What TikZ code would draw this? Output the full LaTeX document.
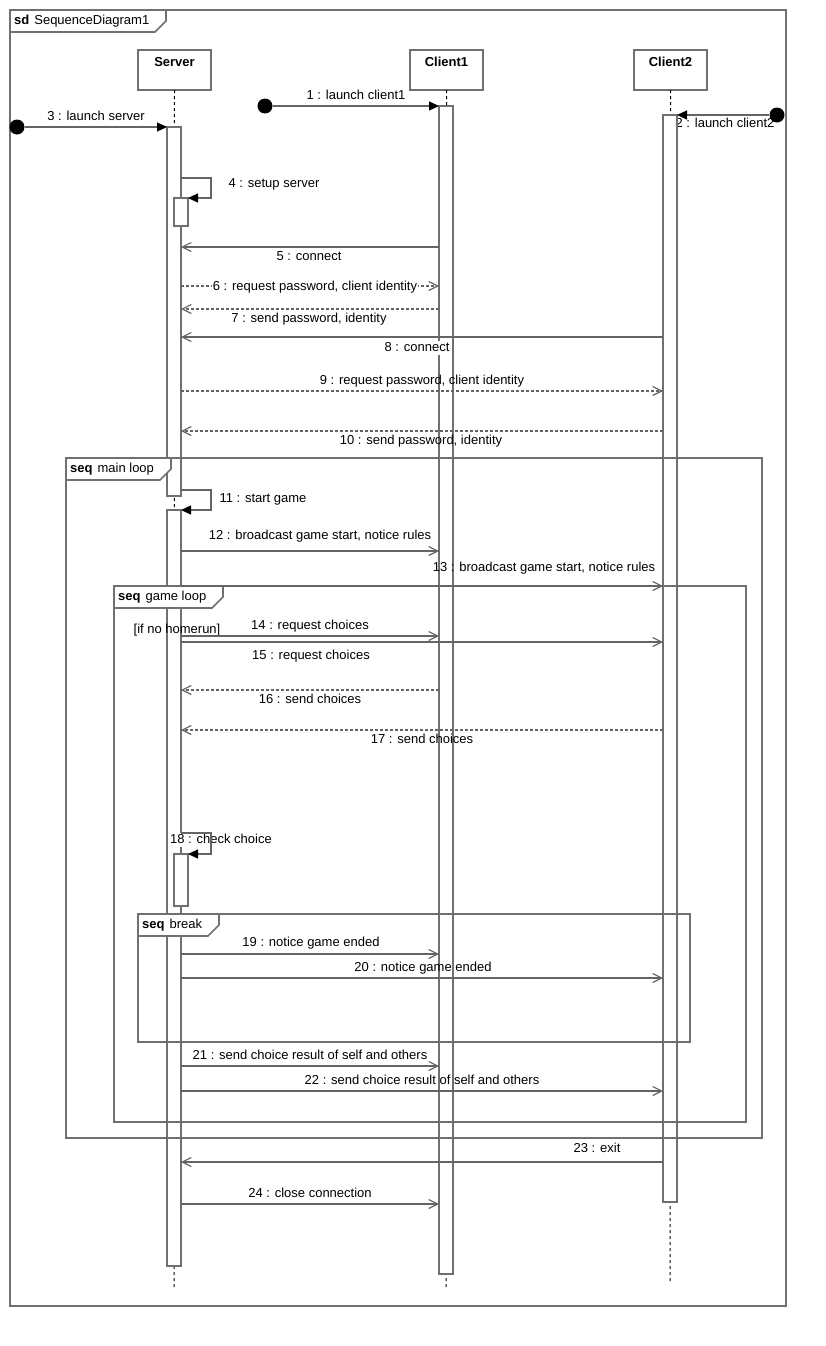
\documentclass[tikz,border=0pt]{standalone}
\usepackage{fontspec}
\setmainfont{Liberation Sans}
\usetikzlibrary{arrows.meta,calc,positioning}
\definecolor{framegray}{RGB}{112,112,112}
\definecolor{linegray}{RGB}{100,100,100}
\tikzset{
  >=Latex,
  diagramframe/.style={draw=framegray,line width=1.6pt},
  framelabel/.style={font=\fontsize{13}{15}\selectfont,anchor=west,inner sep=0pt},
  lifehead/.style={
    draw=framegray,
    line width=1.6pt,
    fill=white,
    rectangle,
    minimum width=73pt,
    minimum height=40pt,
    inner sep=0pt,
    outer sep=0pt,
    text depth=16pt,
    font=\bfseries\fontsize{13}{15}\selectfont
  },
  lifeline/.style={draw=black,line width=1pt,dash pattern=on 3pt off 3pt},
  actbar/.style={
    draw=framegray,
    line width=1.6pt,
    fill=white,
    rectangle,
    minimum width=14pt,
    inner sep=0pt,
    outer sep=0pt
  },
  syncmsg/.style={draw=linegray,line width=1.2pt,-{Triangle[length=10pt,width=9pt,color=black]}},
  callmsg/.style={draw=linegray,line width=1.2pt,-{Straight Barb[length=9pt,width=9pt]}},
  replymsg/.style={callmsg,dash pattern=on 3pt off 2pt},
  msglabel/.style={font=\fontsize{13}{15}\selectfont,inner sep=1pt,text height=9.5pt,text depth=2.5pt},
  startdot/.style={circle,fill=black,inner sep=0pt,minimum size=15pt}
}
\newcommand{\umlframe}[7]{%
  \draw[diagramframe] (#1,#2) rectangle (#3,#4);
  \filldraw[diagramframe,fill=white] (#1,#2) -- (#5,#2) -- (#5,#2+11)
    -- (#5-11,#2+22) -- (#1,#2+22) -- cycle;
  \node[framelabel] at (#1+4,#2+11) {\textbf{#6}\hspace{5pt}#7};
}

\begin{document}
\begin{tikzpicture}[x=1pt,y=-1pt]
  \useasboundingbox[fill=white] (0,0) rectangle (826,1346);

  % Outer frame
  \umlframe{10}{10}{786}{1306}{166}{sd}{SequenceDiagram1}

  % Lifeline heads
  \node[lifehead] (srv) at (174.5,70) {Server};
  \node[lifehead] (cli1) at (446.5,70) {Client1};
  \node[lifehead] (cli2) at (670.5,70) {Client2};

  \coordinate (srvend) at (174,1288);
  \coordinate (cli1end) at (446,1288);
  \coordinate (cli2end) at (670,1282);
  \draw[lifeline] (srv.south) -- (srvend);
  \draw[lifeline] (cli1.south) -- (cli1end);
  \draw[lifeline] (cli2.south) -- (cli2end);

  % launch client2 label sits under the bar
  \node[msglabel] (m2) at (725,124) {2 : launch client2};

  % Activation bars
  \node[actbar,minimum height=369pt] (srvA) at (174,311.5) {};
  \node[actbar,minimum height=756pt] (srvB) at (174,888) {};
  \node[actbar,minimum height=28pt] (setupbar) at (181,212) {};
  \node[actbar,minimum height=52pt] (checkbar) at (181,880) {};
  \node[actbar,minimum height=1168pt] (cli1bar) at (446,690) {};
  \node[actbar,minimum height=1087pt] (cli2bar) at (670,658.5) {};

  % Combined fragments
  \umlframe{66}{458}{762}{1138}{171}{seq}{main loop}
  \umlframe{114}{586}{746}{1122}{223}{seq}{game loop}
  \umlframe{138}{914}{690}{1042}{219}{seq}{break}

  % Launch messages
  \node[startdot] (cli1start) at (265,106) {};
  \node[startdot] (cli2start) at (777,115) {};
  \node[startdot] (srvstart) at (17,127) {};
  \draw[syncmsg] (cli1start) -- (cli1bar.north west);
  \draw[syncmsg] (cli2start) -- (cli2bar.north east);
  \draw[syncmsg] (srvstart) -- (srvA.north west);
  \node[msglabel] (m1) at (356,96) {1 : launch client1};
  \node[msglabel] (m3) at (96,117) {3 : launch server};

  % Setup and login
  \draw[syncmsg] (srvA.east |- 0,178) -- ++(30,0) |- (setupbar.north east);
  \node[msglabel] (m4) at (274,184) {4 : setup server};

  \draw[callmsg] (cli1bar.west |- 0,247) -- (srvA.east |- 0,247);
  \node[msglabel] (m5) at (309,257) {5 : connect};
  \draw[replymsg] (srvA.east |- 0,286) -- (cli1bar.west |- 0,286);
  \node[msglabel,fill=white] (m6) at (315,287) {6 : request password, client identity};
  \draw[replymsg] (cli1bar.west |- 0,309) -- (srvA.east |- 0,309);
  \node[msglabel] (m7) at (309,319) {7 : send password, identity};

  \draw[callmsg] (cli2bar.west |- 0,337) -- (srvA.east |- 0,337);
  \node[msglabel,fill=white] (m8) at (417,348) {8 : connect};
  \draw[replymsg] (srvA.east |- 0,391) -- (cli2bar.west |- 0,391);
  \node[msglabel] (m9) at (422,381) {9 : request password, client identity};
  \draw[replymsg] (cli2bar.west |- 0,431) -- (srvA.east |- 0,431);
  \node[msglabel] (m10) at (421,441) {10 : send password, identity};

  % Main loop
  \draw[syncmsg] (srvA.east |- 0,490) -- ++(30,0) |- (srvB.north east);
  \node[msglabel] (m11) at (263,499) {11 : start game};
  \draw[callmsg] (srvB.east |- 0,551) -- (cli1bar.west |- 0,551);
  \node[msglabel] (m12) at (320,536) {12 : broadcast game start, notice rules};
  \draw[callmsg] (srvB.east |- 0,586) -- (cli2bar.west |- 0,586);
  \node[msglabel] (m13) at (544,568) {13 : broadcast game start, notice rules};

  % Game loop
  \node[msglabel] (guard) at (177,630) {[if no homerun]};
  \draw[callmsg] (srvB.east |- 0,636) -- (cli1bar.west |- 0,636);
  \node[msglabel] (m14) at (310,626) {14 : request choices};
  \draw[callmsg] (srvB.east |- 0,642) -- (cli2bar.west |- 0,642);
  \node[msglabel] (m15) at (311,656) {15 : request choices};
  \draw[replymsg] (cli1bar.west |- 0,690) -- (srvB.east |- 0,690);
  \node[msglabel] (m16) at (310,700) {16 : send choices};
  \draw[replymsg] (cli2bar.west |- 0,730) -- (srvB.east |- 0,730);
  \node[msglabel] (m17) at (422,740) {17 : send choices};

  \node[msglabel,fill=white] (m18) at (221,840) {18 : check choice};
  \draw[syncmsg] (srvB.east |- 0,833) -- ++(30,0) |- (checkbar.north east);

  % Break
  \draw[callmsg] (srvB.east |- 0,954) -- (cli1bar.west |- 0,954);
  \node[msglabel] (m19) at (311,943) {19 : notice game ended};
  \draw[callmsg] (srvB.east |- 0,978) -- (cli2bar.west |- 0,978);
  \node[msglabel] (m20) at (423,968) {20 : notice game ended};

  \draw[callmsg] (srvB.east |- 0,1066) -- (cli1bar.west |- 0,1066);
  \node[msglabel] (m21) at (310,1056) {21 : send choice result of self and others};
  \draw[callmsg] (srvB.east |- 0,1091) -- (cli2bar.west |- 0,1091);
  \node[msglabel] (m22) at (422,1081) {22 : send choice result of self and others};

  % Shutdown
  \draw[callmsg] (cli2bar.west |- 0,1162) -- (srvB.east |- 0,1162);
  \node[msglabel] (m23) at (597,1149) {23 : exit};
  \draw[callmsg] (srvB.east |- 0,1204) -- (cli1bar.west |- 0,1204);
  \node[msglabel] (m24) at (310,1194) {24 : close connection};
\end{tikzpicture}
\end{document}
